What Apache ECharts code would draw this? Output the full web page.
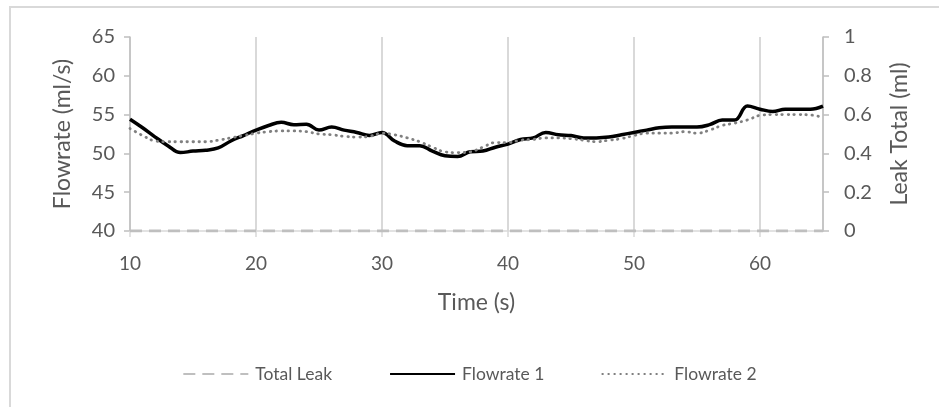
<!DOCTYPE html>
<html>
<head>
<meta charset="utf-8">
<script src="https://cdn.jsdelivr.net/npm/echarts@6/dist/echarts.min.js"></script>
<style>
  html, body { margin: 0; padding: 0; background: #fff; }
  #chart { width: 939px; height: 407px; }
</style>
</head>
<body>
<div id="chart"></div>
<script>
// Sample times (s)
const time = [10,11,12,13,14,15,16,17,18,19,20,21,22,23,24,25,26,27,28,29,30,31,32,33,34,35,36,37,38,39,40,41,42,43,44,45,46,47,48,49,50,51,52,53,54,55,56,57,58,59,60,61,62,63,64,65];

// Flowrate readings (ml/s)
const flowrate1 = [54.4,53.3,52.1,51.0,50.1,50.3,50.4,50.7,51.6,52.3,53.0,53.6,54.0,53.7,53.75,53.0,53.4,53.0,52.7,52.3,52.7,51.6,51.0,51.0,50.3,49.7,49.6,50.2,50.3,50.8,51.2,51.8,52.0,52.7,52.4,52.3,52.0,52.0,52.1,52.4,52.7,53.0,53.3,53.4,53.4,53.4,53.7,54.3,54.3,56.1,55.7,55.4,55.7,55.7,55.7,56.1];
const flowrate2 = [53.2,52.3,51.6,51.5,51.5,51.5,51.5,51.7,52.0,52.3,52.6,52.8,52.9,52.9,52.8,52.5,52.4,52.2,52.1,52.2,52.6,52.4,52.0,51.5,50.8,50.2,50.1,50.2,50.8,51.4,51.4,51.7,51.8,52.0,52.0,51.9,51.7,51.5,51.7,51.9,52.3,52.6,52.6,52.6,52.8,52.6,53.0,53.6,53.9,54.3,54.9,55.0,55.0,55.0,54.95,54.65];

// Cumulative leak (ml)
const totalLeak = time.map(() => 0);

const seriesNames = ['Total Leak', 'Flowrate 1', 'Flowrate 2'];
const pairs = (ys) => time.map((t, i) => [t, ys[i]]);

const FONT = 'Lato';
const TXT = '#595959';

const chart = echarts.init(document.getElementById('chart'), null, { renderer: 'canvas' });
chart.setOption({
  animation: false,
  backgroundColor: '#ffffff',
  textStyle: { fontFamily: FONT },
  graphic: [{
    type: 'rect',
    shape: { x: 10, y: 7, width: 960, height: 440 },
    style: { fill: 'none', stroke: '#d9d9d9', lineWidth: 2 },
    silent: true,
    z: -1
  }],
  grid: { left: 130, right: 116, top: 37, bottom: 176, containLabel: false },
  legend: {
    data: seriesNames,
    left: 'center',
    top: 360,
    itemWidth: 65,
    itemHeight: 14,
    itemGap: 57,
    itemStyle: { opacity: 0 },
    textStyle: { fontFamily: FONT, fontSize: 17.5, color: TXT, padding: [0, 0, 0, 2] }
  },
  xAxis: {
    type: 'value',
    min: 10, max: 65, interval: 10,
    name: 'Time (s)',
    nameLocation: 'middle',
    nameGap: 60,
    nameTextStyle: { fontFamily: FONT, fontSize: 23, color: TXT },
    axisLine: { show: true, lineStyle: { color: '#d9d9d9', width: 1.5 } },
    axisTick: { show: true, length: 6, lineStyle: { color: '#d9d9d9', width: 1.5 } },
    axisLabel: { color: TXT, fontSize: 19, fontFamily: FONT, margin: 23, showMaxLabel: false },
    splitLine: { show: true, lineStyle: { color: '#d9d9d9', width: 2 } }
  },
  yAxis: [{
    type: 'value',
    min: 40, max: 65, interval: 5,
    name: 'Flowrate (ml/s)',
    nameLocation: 'middle',
    nameRotate: 90,
    nameGap: 56,
    nameTextStyle: { fontFamily: FONT, fontSize: 23, color: TXT },
    axisLine: { show: true, lineStyle: { color: '#bfbfbf', width: 1.5 } },
    axisTick: { show: true, length: 6, lineStyle: { color: '#bfbfbf', width: 1.5 } },
    axisLabel: { color: TXT, fontSize: 20, fontFamily: FONT, margin: 15 },
    splitLine: { show: false }
  }, {
    type: 'value',
    min: 0, max: 1, interval: 0.2,
    name: 'Leak Total (ml)',
    nameLocation: 'middle',
    nameRotate: 90,
    nameGap: 65,
    nameTextStyle: { fontFamily: FONT, fontSize: 23, color: TXT },
    axisLine: { show: true, lineStyle: { color: '#bfbfbf', width: 1.5 } },
    axisTick: { show: true, length: 6, lineStyle: { color: '#bfbfbf', width: 1.5 } },
    axisLabel: { color: TXT, fontSize: 20, fontFamily: FONT, margin: 21 },
    splitLine: { show: false }
  }],
  series: [{
    name: 'Total Leak',
    type: 'line',
    yAxisIndex: 1,
    data: pairs(totalLeak),
    symbol: 'none',
    color: '#bfbfbf',
    lineStyle: { color: '#bfbfbf', width: 3, type: [12, 7] },
    z: 3
  }, {
    name: 'Flowrate 1',
    type: 'line',
    yAxisIndex: 0,
    data: pairs(flowrate1),
    symbol: 'none',
    smooth: 0.4,
    color: '#000000',
    lineStyle: { color: '#000000', width: 3.5 },
    z: 4
  }, {
    name: 'Flowrate 2',
    type: 'line',
    yAxisIndex: 0,
    data: pairs(flowrate2),
    symbol: 'none',
    smooth: 0.4,
    color: '#808080',
    lineStyle: { color: '#808080', width: 2.8, type: [0.5, 5.5], cap: 'round' },
    z: 5
  }]
});
</script>
</body>
</html>
